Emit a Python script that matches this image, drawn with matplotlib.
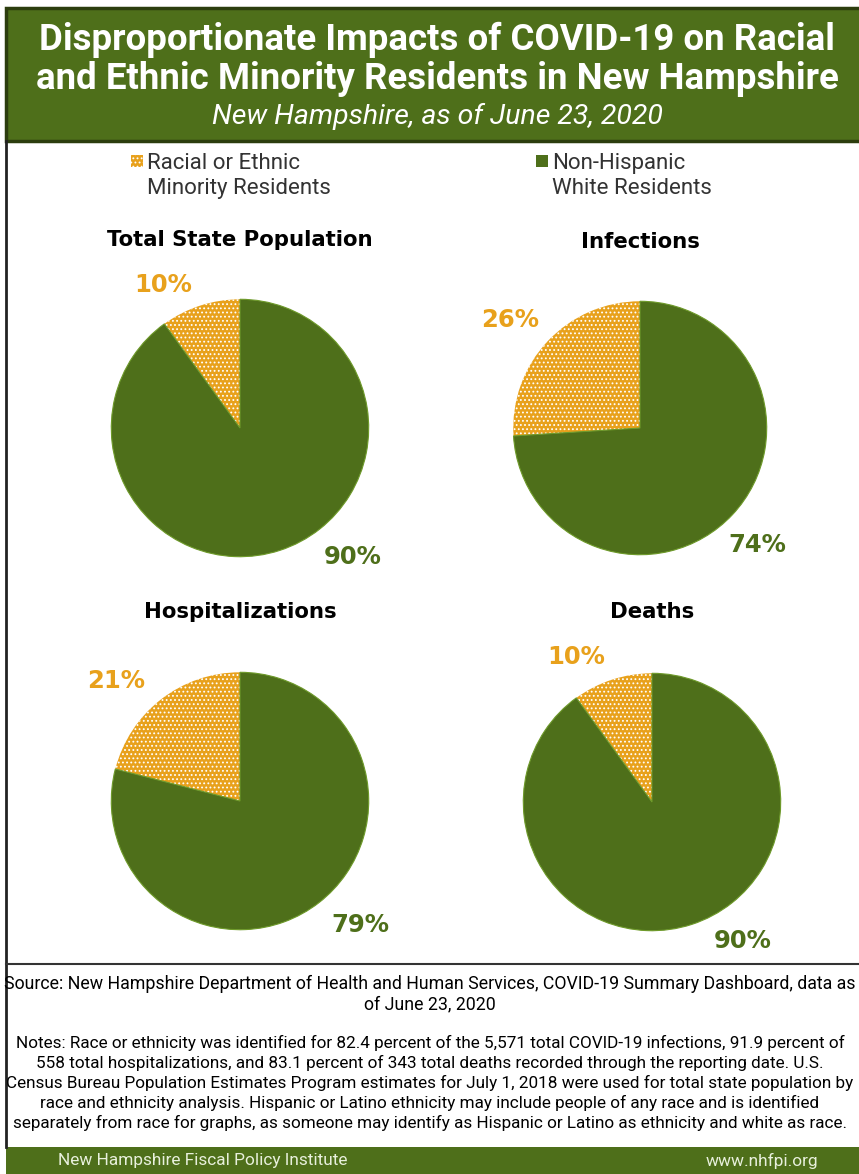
#! /usr/bin/env python3
"""
Four pies comparing minority vs. white residents in New Hampshire
across population, infections, hospitalizations and deaths.
"""

import matplotlib

matplotlib.use("Agg")
import matplotlib.pyplot as plt
from matplotlib.patches import Rectangle

W, H = 859, 1174

GREEN = "#4E6F1A"
DARK = "#2C3D0E"
ORANGE = "#E8A11C"

panels = ["Total State Population", "Infections", "Hospitalizations", "Deaths"]
minority = [10, 26, 21, 10]
white = [90, 74, 79, 90]
series = ["Racial or Ethnic\nMinority Residents", "Non-Hispanic\nWhite Residents"]

# pie centre (px), radius (px), title y, minority label xy, white label xy
layout = [
    ((240, 428), 130, 240, (163, 285), (353, 557)),
    ((640, 428), 128, 242, (510, 320), (757, 545)),
    ((240, 801), 130, 612, (116, 681), (360, 925)),
    ((652, 802), 130, 612, (576, 657), (743, 941)),
]

source = (
    "Source: New Hampshire Department of Health and Human Services, "
    "COVID-19 Summary Dashboard, data as\nof June 23, 2020"
)
notes = (
    "Notes: Race or ethnicity was identified for 82.4 percent of the 5,571 total "
    "COVID-19 infections, 91.9 percent of\n"
    "558 total hospitalizations, and 83.1 percent of 343 total deaths recorded "
    "through the reporting date. U.S.\n"
    "Census Bureau Population Estimates Program estimates for July 1, 2018 were "
    "used for total state population by\n"
    "race and ethnicity analysis. Hispanic or Latino ethnicity may include people "
    "of any race and is identified\n"
    "separately from race for graphs, as someone may identify as Hispanic or "
    "Latino as ethnicity and white as race."
)

NARROW = ["Roboto", "DejaVu Sans"]

plt.rcParams["hatch.linewidth"] = 0.8

fig = plt.figure(figsize=(W / 100, H / 100), dpi=100)
fig.patch.set_facecolor("white")
renderer = fig.canvas.get_renderer()


def fit(text, width):
    """
    Set the font size so the text block is `width` pixels wide
    """
    size = text.get_fontsize()
    for _ in range(3):
        box = text.get_window_extent(renderer=renderer)
        size *= width / box.width
        text.set_fontsize(size)
    return text


# overlay in pixel coordinates for frame and text
bg = fig.add_axes([0, 0, 1, 1])
bg.set_xlim(0, W)
bg.set_ylim(H, 0)
bg.axis("off")

bg.add_patch(Rectangle((6, 8), W, 133, facecolor=GREEN, edgecolor=DARK, lw=2.5))
bg.add_patch(Rectangle((6, 1147), W, 30, facecolor=GREEN, edgecolor="none"))
bg.plot([6, 6], [141, 1147], color="#222222", lw=2)
bg.plot([6, W], [964, 964], color="#333333", lw=1.5)

fit(bg.text(437, 59, "Disproportionate Impacts of COVID-19 on Racial\n"
            "and Ethnic Minority Residents in New Hampshire",
            ha="center", va="center", color="white", fontsize=24,
            fontweight="bold", family=NARROW, linespacing=1.1), 805)
fit(bg.text(437, 116, "New Hampshire, as of June 23, 2020", ha="center",
            va="center", color="white", fontsize=20, style="italic",
            family=NARROW), 450)

# legend
bg.add_patch(Rectangle((131, 155), 12, 12, facecolor=ORANGE, edgecolor="white",
                       hatch="....", lw=0))
leg = fit(bg.text(147, 176, series[0], ha="left", va="center", fontsize=14,
                  family=NARROW, color="#333333", linespacing=1.25), 184)
bg.add_patch(Rectangle((536, 155), 12, 12, facecolor=GREEN, edgecolor="none"))
bg.text(552, 176, series[1], ha="left", va="center", fontsize=leg.get_fontsize(),
        family=NARROW, color="#333333", linespacing=1.25)

for name, mino, whi, (ctr, r, ty, lpos_m, lpos_w) in zip(
    panels, minority, white, layout
):
    cx, cy = ctr
    ax = fig.add_axes([(cx - r) / W, 1 - (cy + r) / H, 2 * r / W, 2 * r / H])
    wedges, _ = ax.pie(
        [mino, whi],
        colors=[ORANGE, GREEN],
        startangle=90,
        counterclock=True,
        radius=1,
    )
    wedges[0].set_edgecolor("white")
    wedges[0].set_linewidth(0)
    wedges[0].set_hatch("....")
    wedges[1].set_edgecolor("#6E9A2A")
    wedges[1].set_linewidth(0.8)
    ax.set_xlim(-1.01, 1.01)
    ax.set_ylim(-1.01, 1.01)
    ax.set_aspect("equal")
    ax.axis("off")

    bg.text(cx, ty, name, ha="center", va="center", fontsize=15.3,
            fontweight="bold", color="black")
    bg.text(*lpos_m, f"{mino}%", ha="center", va="center", fontsize=17.5,
            fontweight="bold", color=ORANGE)
    bg.text(*lpos_w, f"{whi}%", ha="center", va="center", fontsize=17.5,
            fontweight="bold", color=GREEN)

fit(bg.text(430, 994, source, ha="center", va="center", fontsize=11,
            family=NARROW, color="black", linespacing=1.2), 850)
fit(bg.text(430, 1083, notes, ha="center", va="center", fontsize=11,
            family=NARROW, color="black", linespacing=1.3), 850)

fit(bg.text(58, 1161, "New Hampshire Fiscal Policy Institute", ha="left",
            va="center", fontsize=11, family=NARROW, color="#E8F0DC"), 289)
fit(bg.text(818, 1161, "www.nhfpi.org", ha="right", va="center", fontsize=11,
            family=NARROW, color="#E8F0DC"), 112)

fig.savefig("out.png", dpi=100)
